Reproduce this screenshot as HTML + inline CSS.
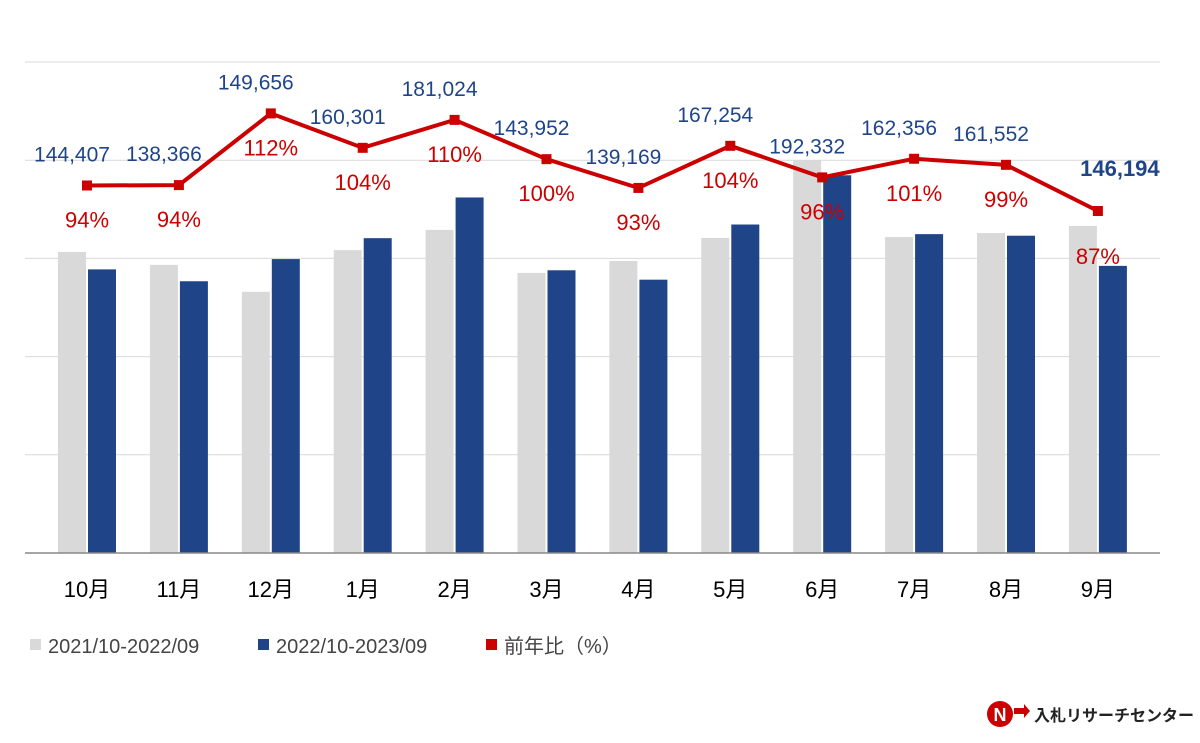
<!DOCTYPE html>
<html><head><meta charset="utf-8"><style>
body{margin:0;background:#fff;font-family:"Liberation Sans","Noto Sans CJK JP",sans-serif}
svg text{font-family:"Liberation Sans","Noto Sans CJK JP",sans-serif}
</style></head><body>
<svg id="c" width="1200" height="738" xmlns="http://www.w3.org/2000/svg"></svg>
<script>
const categories=["10月","11月","12月","1月","2月","3月","4月","5月","6月","7月","8月","9月"];
const prevYear=[153300,146700,133000,154200,164500,142600,148700,160400,200100,160900,162900,166500];
const currYear=[144407,138366,149656,160301,181024,143952,139169,167254,192332,162356,161552,146194];
const ratio=[94.2,94.3,112,103.5,110.4,100.7,93.6,104,96.2,100.8,99.3,87.9];
const ratioLabels=["94%","94%","112%","104%","110%","100%","93%","104%","96%","101%","99%","87%"];
const NS="http://www.w3.org/2000/svg";
const svg=document.getElementById('c');
function el(t,a,p){const e=document.createElementNS(NS,t);for(const k in a)e.setAttribute(k,a[k]);(p||svg).appendChild(e);return e;}
const base=553,top0=62;
const yV=v=>base-v/250000*(base-top0);
const yP=p=>162-(p-100)*4.05;
const xC=i=>87+i*91.9;
for(let g=1;g<=4;g++){const l=el('line',{x1:25,x2:1160,y1:yV(g*50000),y2:yV(g*50000),stroke:'#d9d9d9','stroke-width':1});

}
const t=el('line',{x1:25,x2:1160,y1:top0,y2:top0,stroke:'#d9d9d9'});


categories.forEach((c,i)=>{
 const x=xC(i);
 const b1=el('rect',{x:x-29,y:yV(prevYear[i]),width:28,height:base-yV(prevYear[i]),fill:'#d9d9d9'});
 
 
 const b2=el('rect',{x:x+1,y:yV(currYear[i]),width:28,height:base-yV(currYear[i]),fill:'#1f4588'});
 
 
 const tl=el('text',{x:x,y:597,'font-size':22,'text-anchor':'middle',fill:'#000'});tl.textContent=c;
 
 
});
const ax=el('line',{x1:25,x2:1160,y1:base,y2:base,stroke:'#888','stroke-width':1.5});


const pl=el('polyline',{points:ratio.map((p,i)=>xC(i)+','+yP(p)).join(' '),fill:'none',stroke:'#cc0000','stroke-width':4});


ratio.forEach((p,i)=>{
 const x=xC(i),y=yP(p),last=i===categories.length-1;
 const m=el('rect',{x:x-5,y:y-5,width:10,height:10,fill:'#cc0000'});
 
 
 const v=el('text',{x:x+(last?22:-15),y:y-(last?35:24),'font-size':last?22:21,'font-weight':last?'bold':'normal','text-anchor':'middle',fill:'#1f4588'});
 v.textContent=currYear[i].toLocaleString('en-US');
 
 
 const r=el('text',{x:x,y:y+(last?53:42),'font-size':22,'text-anchor':'middle',fill:'#cc0000'});
 r.textContent=ratioLabels[i];
 
 
});
const legend=[["#d9d9d9","2021/10-2022/09",30],["#1f4588","2022/10-2023/09",258],["#cc0000","前年比（%）",486]];
legend.forEach(l=>{
 const g=el('g',{});
 
 
 el('rect',{x:l[2],y:639,width:11,height:11,fill:l[0]},g);
 const tx=el('text',{x:l[2]+18,y:653,'font-size':20,fill:'#444'},g);tx.textContent=l[1];
});
const logo=el('g',{});


el('circle',{cx:1000,cy:714,r:13,fill:'#cc0000'},logo);
const n=el('text',{x:1000,y:721,'font-size':18,'font-weight':'bold','text-anchor':'middle',fill:'#fff'},logo);n.textContent='N';
el('polygon',{points:'1014,708 1024,708 1024,704 1030,711 1024,718 1024,714 1014,714',fill:'#cc0000'},logo);
const lt=el('text',{x:1034,y:721,'font-size':16,'font-weight':'bold',fill:'#222'},logo);lt.textContent='入札リサーチセンター';
</script>
</body></html>
